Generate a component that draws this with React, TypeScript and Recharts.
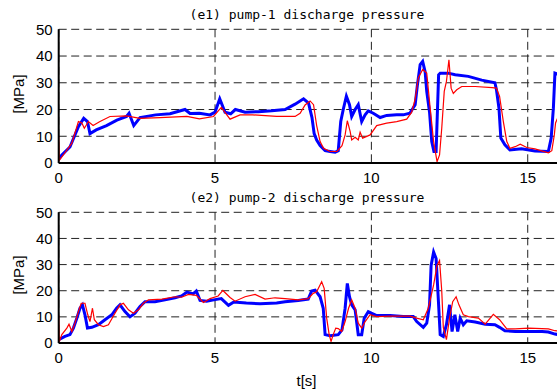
import React from 'react';
import { LineChart, Line, XAxis, YAxis, CartesianGrid } from 'recharts';

const xTicks = [0, 5, 10, 15];
const yTicks = [0, 10, 20, 30, 40, 50];

// (e1) pump-1 discharge pressure, blue trace
const p1BlueT = [
  0, 0.1, 0.36, 0.63, 0.8, 0.92, 1.0, 1.2, 1.53, 1.86,
  2.17, 2.25, 2.4, 2.6, 3.1, 3.56, 4.04, 4.2, 4.5, 4.84,
  5.0, 5.15, 5.32, 5.5, 5.65, 5.96, 6.39, 6.81, 7.24, 7.56,
  7.83, 7.99, 8.1, 8.17, 8.25, 8.36, 8.52, 8.68, 8.84, 8.94,
  9.02, 9.1, 9.2, 9.3, 9.37, 9.48, 9.58, 9.69, 9.8, 9.9,
  10.06, 10.28, 10.49, 10.81, 11.02, 11.23, 11.4, 11.47, 11.56, 11.64,
  11.72, 11.77, 11.86, 11.93, 12.0, 12.07, 12.15, 12.2, 12.46, 12.68,
  13.1, 13.53, 13.95, 14.0, 14.08, 14.14, 14.27, 14.43, 14.8, 15.23,
  15.66, 15.75, 15.82, 15.87, 16.0,
];
const p1BlueP = [
  1.5, 3, 6, 13.6, 16.7, 15.5, 11, 12.4, 14, 16,
  17.4, 18.6, 14, 17, 18, 18.4, 20, 18.5, 18.6, 18,
  19, 24, 19, 18.4, 20, 19, 19.2, 19.5, 20, 22,
  24, 22.4, 17, 11, 8.6, 6.5, 4.6, 4.3, 4, 4.6,
  15.5, 20, 25, 21.8, 17.4, 20, 21.8, 15.5, 18, 19.5,
  18.6, 17, 17.8, 18, 18, 18.6, 21.8, 29, 36.8, 38,
  34, 26.8, 19, 8, 4.3, 4.3, 33, 33.6, 33.6, 33,
  32.4, 31, 30, 27.4, 20.5, 9.3, 6.8, 4.9, 5.3, 4.5,
  4.3, 9.3, 20.5, 33.6, 33,
];

// (e1) red trace
const p1RedT = [
  0, 0.02, 0.15, 0.42, 0.63, 0.74, 0.82, 0.95, 1.1, 1.32,
  1.64, 2.17, 2.6, 3.24, 4.1, 4.5, 4.95, 5.2, 5.48, 5.8,
  6.2, 6.97, 7.56, 7.72, 7.88, 8.04, 8.15, 8.25, 8.36, 8.47,
  8.68, 8.9, 9.06, 9.16, 9.23, 9.32, 9.37, 9.48, 9.58, 9.64,
  9.72, 9.96, 10.17, 10.49, 10.81, 11.13, 11.29, 11.4, 11.5, 11.64,
  11.77, 11.88, 11.99, 12.1, 12.18, 12.25, 12.33, 12.4, 12.48, 12.55,
  12.62, 12.73, 12.89, 13.32, 13.86, 14.0, 14.1, 14.22, 14.33, 14.43,
  14.6, 14.76, 14.97, 15.23, 15.66, 15.77, 15.85, 15.89, 16.0,
];
const p1RedP = [
  10, 1, 3, 7.4, 15.5, 15, 13, 15.5, 14, 15.5,
  17.4, 17.6, 16.7, 17, 17.4, 16.5, 17.4, 20.8, 16.4, 18,
  18, 17.4, 17.4, 18.6, 21.7, 23.2, 21.8, 14, 8, 5.5,
  4.3, 4.3, 6.5, 10.5, 15.8, 11.8, 8.6, 9.6, 8.6, 11.5,
  9.3, 10.5, 14, 14.9, 15.5, 16.4, 19, 24, 31.8, 35,
  33.6, 20.5, 8, 0.5, 3, 13, 26.8, 30.5, 38.6, 28,
  26, 27.4, 28.6, 28.6, 28.2, 28, 24.9, 15.5, 8, 5.5,
  6.1, 7, 5.8, 5.3, 3.8, 4.6, 10.5, 15, 18,
];

// (e2) pump-2 discharge pressure, blue trace
const p2BlueT = [
  0, 0.2, 0.36, 0.47, 0.58, 0.68, 0.76, 0.84, 0.92, 1.06,
  1.27, 1.48, 1.7, 1.85, 1.96, 2.12, 2.28, 2.44, 2.6, 2.76,
  3.08, 3.4, 3.72, 3.93, 4.1, 4.3, 4.4, 4.52, 4.73, 5.0,
  5.2, 5.43, 5.6, 6.0, 6.44, 6.97, 7.24, 7.66, 7.98, 8.09,
  8.2, 8.36, 8.46, 8.52, 8.68, 8.94, 9.06, 9.16, 9.23, 9.3,
  9.37, 9.48, 9.58, 9.69, 9.77, 9.9, 10.0, 10.17, 10.6, 11.02,
  11.34, 11.45, 11.66, 11.77, 11.86, 11.91, 11.99, 12.07, 12.15, 12.2,
  12.3, 12.4, 12.5, 12.58, 12.67, 12.76, 12.84, 12.94, 13.05, 13.32,
  13.64, 13.95, 14.1, 14.27, 14.6, 15.03, 15.46, 15.66, 15.87, 16.0,
];
const p2BlueP = [
  1.3, 2.5, 3.2, 5.7, 9.5, 13.3, 14.6, 10.8, 5.7, 6,
  7, 8.9, 10.8, 13.3, 14.6, 12, 10, 11.4, 14, 15.8,
  15.8, 16.5, 17.3, 18, 19.5, 18.8, 19.9, 16.3, 16, 16.6,
  17, 14.4, 15.7, 15.3, 15, 15.3, 15.8, 16.3, 16.8, 19.9,
  20.2, 17.7, 13.3, 3.2, 2.8, 3.2, 5, 13.3, 22.8, 17.7,
  14.6, 12.7, 3.2, 3.2, 9.5, 12, 11.4, 10.5, 10.5, 10.1,
  10.1, 8.2, 6, 7.6, 14.6, 29.7, 34.8, 32.3, 14.6, 3.2,
  2.5, 7, 14.6, 4.4, 10.8, 4.4, 9.5, 7, 8.5, 8,
  7.2, 7, 6, 4.7, 4.4, 4.4, 4.4, 4.2, 3.4, 3.2,
];

// (e2) red trace
const p2RedT = [
  0, 0.02, 0.1, 0.26, 0.33, 0.42, 0.52, 0.63, 0.72, 0.84,
  0.93, 1.0, 1.08, 1.14, 1.27, 1.43, 1.59, 1.8, 1.96, 2.07,
  2.23, 2.39, 2.55, 2.71, 2.87, 3.3, 3.72, 3.93, 4.15, 4.4,
  4.63, 4.84, 5.1, 5.25, 5.48, 5.64, 5.96, 6.28, 6.6, 6.92,
  7.24, 7.66, 7.98, 8.14, 8.25, 8.41, 8.49, 8.57, 8.65, 8.71,
  8.78, 8.86, 8.94, 9.05, 9.16, 9.27, 9.37, 9.48, 9.58, 9.69,
  9.8, 9.96, 10.17, 10.6, 11.23, 11.45, 11.66, 11.82, 11.99, 12.1,
  12.18, 12.25, 12.3, 12.4, 12.5, 12.6, 12.71, 12.8, 12.94, 13.1,
  13.42, 13.64, 13.9, 14.1, 14.33, 14.6, 15.03, 15.66, 15.87, 16.0,
];
const p2RedP = [
  10.8, 0.5, 3.2, 5.7, 7.2, 4.4, 7.6, 12, 15.2, 15.2,
  10.8, 8.2, 13.3, 8.9, 7, 6.3, 7, 11.4, 14.6, 15.2,
  12.7, 11.4, 12.7, 15.2, 16.5, 16.8, 17.7, 17.5, 18.6, 18.2,
  15.5, 17, 18, 20.1, 17.4, 16, 17.7, 18.6, 16.8, 17.3,
  17, 16.5, 17, 19, 19.6, 23.4, 20.9, 9.5, 3.2, 0.6,
  3.2, 5.7, 5.5, 4.4, 8.2, 13.3, 16.5, 13.3, 7.6, 5.7,
  8.2, 10.8, 10.1, 10.3, 10.3, 9.5, 8.9, 13.3, 22.2, 29.7,
  31.6, 20, 6, 1.3, 9.5, 15.8, 17.7, 14.6, 10.8, 10.1,
  9.5, 7.2, 11, 8.9, 5.4, 5.4, 5.7, 5.4, 4.7, 4.5,
];

const zip = (t: number[], p: number[]) => t.map((x, i) => ({ t: x, p: p[i] }));

const SANS = '"Liberation Sans", Arial, sans-serif';
const MONO = '"DejaVu Sans Mono", monospace';
const frame = { stroke: '#000', strokeWidth: 2 };
const tickStyle = { fill: '#000', fontSize: 15, fontFamily: SANS };

interface PanelProps {
  top: number;
  height: number;
  plotTop: number;
  xAxisH: number;
  blue: { t: number; p: number }[];
  red: { t: number; p: number }[];
}

const Panel = ({ top, height, plotTop, xAxisH, blue, red }: PanelProps) => (
  <div style={{ position: 'absolute', left: 0, top }}>
    <LineChart width={565} height={height} margin={{ top: plotTop, right: 6, bottom: 0, left: 0 }}>
      <CartesianGrid stroke="#222" strokeDasharray="8 4.5" />
      <XAxis
        dataKey="t"
        type="number"
        domain={[0, 16]}
        ticks={xTicks}
        interval={0}
        allowDataOverflow
        tickLine={false}
        axisLine={frame}
        tick={tickStyle}
        tickMargin={3}
        height={xAxisH}
      />
      <XAxis
        xAxisId="top"
        orientation="top"
        type="number"
        domain={[0, 16]}
        tick={false}
        tickLine={false}
        axisLine={frame}
        height={0}
      />
      <YAxis
        type="number"
        domain={[0, 50]}
        ticks={yTicks}
        interval={0}
        tickLine={false}
        axisLine={frame}
        tick={tickStyle}
        tickMargin={0}
        width={58.7}
      />
      <Line data={blue} dataKey="p" stroke="#0000ff" strokeWidth={3} dot={false} isAnimationActive={false} />
      <Line data={red} dataKey="p" stroke="#ff0000" strokeWidth={1.2} dot={false} isAnimationActive={false} />
    </LineChart>
  </div>
);

const label = (text: string, x: number, y: number, font: string, size: number, rotate = false) => (
  <div
    style={{
      position: 'absolute',
      left: x - 150,
      top: y - 10,
      width: 300,
      height: 20,
      lineHeight: '20px',
      textAlign: 'center',
      fontFamily: font,
      fontSize: size,
      color: '#000',
      whiteSpace: 'nowrap',
      transform: rotate ? 'rotate(-90deg)' : undefined,
    }}
  >
    {text}
  </div>
);

export default function App() {
  return (
    <div style={{ position: 'absolute', left: 0, top: 0, width: 557, height: 392, overflow: 'hidden', background: '#fff' }}>
      <Panel top={0} height={185} plotTop={29.3} xAxisH={22} blue={zip(p1BlueT, p1BlueP)} red={zip(p1RedT, p1RedP)} />
      <Panel top={185} height={207} plotTop={27.3} xAxisH={49} blue={zip(p2BlueT, p2BlueP)} red={zip(p2RedT, p2RedP)} />
      {label('(e1) pump-1 discharge pressure', 307, 15, MONO, 13)}
      {label('(e2) pump-2 discharge pressure', 307, 198, MONO, 13)}
      {label('[MPa]', 18.5, 94, SANS, 15, true)}
      {label('[MPa]', 18.5, 275, SANS, 15, true)}
      {label('t[s]', 306.5, 381, SANS, 15)}
    </div>
  );
}
